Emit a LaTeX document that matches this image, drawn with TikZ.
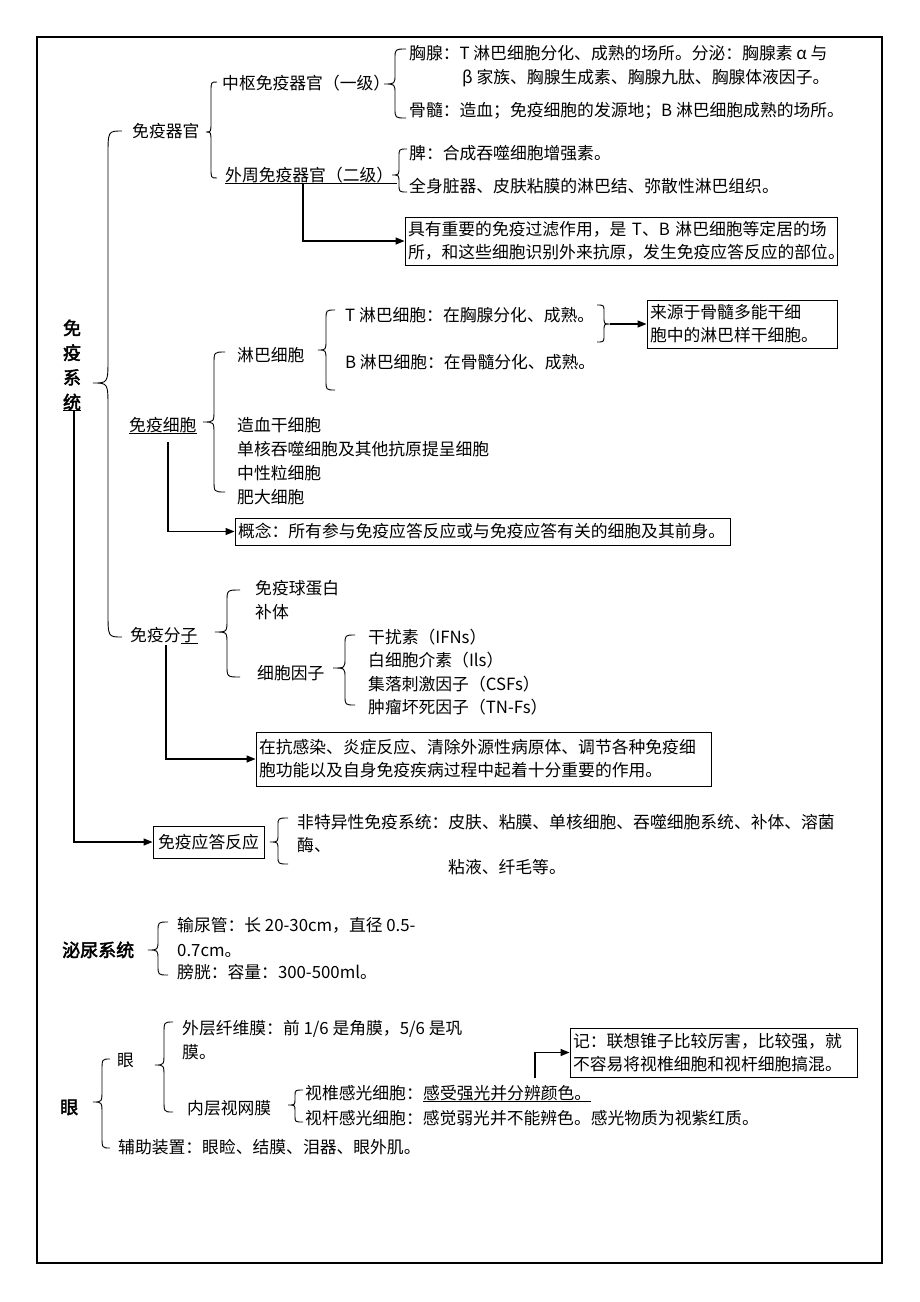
\documentclass[tikz,border=0pt]{standalone}
\usepackage{fontspec}
\newfontfamily\cjk[AutoFakeBold=2.5]{Noto Sans CJK SC}
\usetikzlibrary{arrows.meta}
\newcommand\bracepath[7]{%
  \draw[brc] (#3,#4) .. controls (#2,#4) .. (#2,{#4+#7}) -- (#2,{#5-#7}) .. controls (#2,#5) .. (#1,#5) .. controls (#2,#5) .. (#2,{#5+#7}) -- (#2,{#6-#7}) .. controls (#2,#6) .. (#3,#6);}
\begin{document}
\begin{tikzpicture}[x=1pt,y=-1pt,
 txt/.style={anchor=west, inner sep=0pt, font=\cjk\fontsize{16.8}{22}\selectfont, text height=14.8pt, text depth=2pt},
 hd/.style={anchor=west, inner sep=0pt, font=\cjk\bfseries\fontsize{18}{24}\selectfont, text height=15.8pt, text depth=2.2pt},
 box/.style={draw, line width=0.9pt, inner xsep=3pt, inner ysep=0pt, align=left, font=\cjk\fontsize{16.8}{23}\selectfont},
 brc/.style={line width=0.9pt},
 arr/.style={line width=1.3pt, -{Triangle[length=9pt,width=7pt]}},
 ul/.style={line width=0.9pt}]
\useasboundingbox (0,0) rectangle (920,1302);
\draw[line width=1.6pt] (37,37) rectangle (882,1263);

% ---------- immune system ----------
\node[font=\cjk\bfseries\fontsize{18}{24.7}\selectfont, align=center, inner sep=0pt] (sys) at (72,365) {免\\疫\\系\\统};
\draw[ul] (sys.south west) -- (sys.south east);
\coordinate (sysU) at ([xshift=2pt]sys.south);
\bracepath{93}{108}{122}{131}{383}{637}{25}

% organs
\node[txt] (myqg) at (132,131) {免疫器官};
\bracepath{206}{211}{217}{82}{132}{178}{10}
\node[txt] (zs) at (222,83) {中枢免疫器官（一级）};
\bracepath{384}{395}{406}{49}{84}{118}{10}
\node[txt] (xx1) at (409,53) {胸腺：T 淋巴细胞分化、成熟的场所。分泌：胸腺素 α 与};
\node[txt] (xx2) at (462,77) {β 家族、胸腺生成素、胸腺九肽、胸腺体液因子。};
\node[txt] (gs) at (409,110) {骨髓：造血；免疫细胞的发源地；B 淋巴细胞成熟的场所。};
\node[txt] (wz) at (225,175) {外周免疫器官（二级）};
\draw[ul] (wz.south west) -- ([xshift=4pt]wz.south east);
\bracepath{392}{399}{407}{149}{175}{192}{8}
\node[txt] (pi) at (409,153) {脾：合成吞噬细胞增强素。};
\node[txt] (qs) at (409,186) {全身脏器、皮肤粘膜的淋巴结、弥散性淋巴组织。};
\node[box, text width=426pt, minimum height=48pt] (b1) at (621,241) {具有重要的免疫过滤作用，是 T、B 淋巴细胞等定居的场\\所，和这些细胞识别外来抗原，发生免疫应答反应的部位。};
\coordinate (wzU) at (303,183);
\draw[arr] (wzU) |- (b1.west);

% cells
\node[txt] (myxb) at (129,425) {免疫细胞};
\draw[ul] (myxb.south west) -- (myxb.south east);
\bracepath{203}{214}{225}{352}{422}{492}{12}
\node[txt] (lb) at (237,355) {淋巴细胞};
\bracepath{318}{326}{335}{310}{350}{390}{10}
\node[txt] (tl) at (345,315) {T 淋巴细胞：在胸腺分化、成熟。};
\node[txt] (bl) at (345,362) {B 淋巴细胞：在骨髓分化、成熟。};
\bracepath{610}{604}{597}{305}{324}{342}{7}
\coordinate (tbtip) at (610,324);
\node[box, text width=184pt, minimum height=48pt] (b2) at (742,324) {来源于骨髓多能干细\\胞中的淋巴样干细胞。};
\draw[arr] (tbtip) -- (b2.west);
\node[txt] (zx) at (237,425) {造血干细胞};
\node[txt] (dh) at (237,449) {单核吞噬细胞及其他抗原提呈细胞};
\node[txt] (zxl) at (237,473) {中性粒细胞};
\node[txt] (fd) at (237,497) {肥大细胞};
\node[box, text width=489pt, minimum height=27pt] (b3) at (482.5,531.5) {概念：所有参与免疫应答反应或与免疫应答有关的细胞及其前身。};
\coordinate (myxbU) at (168,442);
\draw[arr] (myxbU) |- (b3.west);

% molecules
\node[txt] (myfz) at (130,635) {免疫分子};
\draw[ul] ([xshift=-17pt]myfz.south east) -- (myfz.south east);
\bracepath{215}{227}{240}{590}{632}{677}{12}
\node[txt] (qdb) at (255,588) {免疫球蛋白};
\node[txt] (bt) at (255,612) {补体};
\node[txt] (xbyz) at (257,673) {细胞因子};
\bracepath{333}{345}{355}{635}{668}{705}{10}
\node[txt] (grs) at (368,637) {干扰素（IFNs）};
\node[txt] (bxb) at (368,660) {白细胞介素（Ils）};
\node[txt] (jl) at (368,684) {集落刺激因子（CSFs）};
\node[txt] (zl) at (368,707) {肿瘤坏死因子（TN-Fs）};
\node[box, text width=449pt, minimum height=54pt] (b4) at (483.5,759) {在抗感染、炎症反应、清除外源性病原体、调节各种免疫细\\胞功能以及自身免疫疾病过程中起着十分重要的作用。};
\coordinate (myfzU) at (166,645);
\draw[arr] (myfzU) |- (b4.west);

% response
\node[box, align=center, text width=105pt, minimum height=32pt] (resp) at (208.5,842) {免疫应答反应};
\draw[arr] (sysU) |- (resp.west);
\bracepath{270}{278}{288}{818}{842}{864}{8}
\node[txt] (fty) at (297,822) {非特异性免疫系统：皮肤、粘膜、单核细胞、吞噬细胞系统、补体、溶菌};
\node[txt] (mei) at (297,845) {酶、};
\node[txt] (ny) at (448,867) {粘液、纤毛等。};

% ---------- urinary ----------
\node[hd] (mn) at (62,950) {泌尿系统};
\bracepath{148}{158}{168}{922}{950}{975}{10}
\node[txt] (snc) at (177,925) {输尿管：长 20-30cm，直径 0.5-};
\node[txt] (snc2) at (177,950) {0.7cm。};
\node[txt] (pg) at (177,972) {膀胱：容量：300-500ml。};

% ---------- eye ----------
\node[hd] (yan) at (60,1107) {眼};
\bracepath{93}{102}{110}{1059}{1102}{1148}{12}
\node[txt] (yan2) at (117,1060) {眼};
\bracepath{155}{164}{173}{1022}{1065}{1112}{12}
\node[txt] (wc) at (182,1028) {外层纤维膜：前 1/6 是角膜，5/6 是巩};
\node[txt] (wc2) at (182,1052) {膜。};
\node[txt] (nc) at (187,1108) {内层视网膜};
\bracepath{288}{295}{303}{1090}{1105}{1122}{6}
\node[txt] (sz1) at (305,1093) {视椎感光细胞：};
\node[txt] (sz2) at (sz1.east) {感受强光并分辨颜色。};
\draw[ul] (sz2.south west) -- (sz2.south east);
\node[txt] (sg) at (305,1118) {视杆感光细胞：感觉弱光并不能辨色。感光物质为视紫红质。};
\node[txt] (fz) at (118,1147) {辅助装置：眼睑、结膜、泪器、眼外肌。};
\node[box, text width=281pt, minimum height=49pt] (b5) at (713.5,1052.5) {记：联想锥子比较厉害，比较强，就\\不容易将视椎细胞和视杆细胞搞混。};
\coordinate (szU) at (535,1078);
\draw[arr] (szU) |- (b5.west);
\end{tikzpicture}
\end{document}
